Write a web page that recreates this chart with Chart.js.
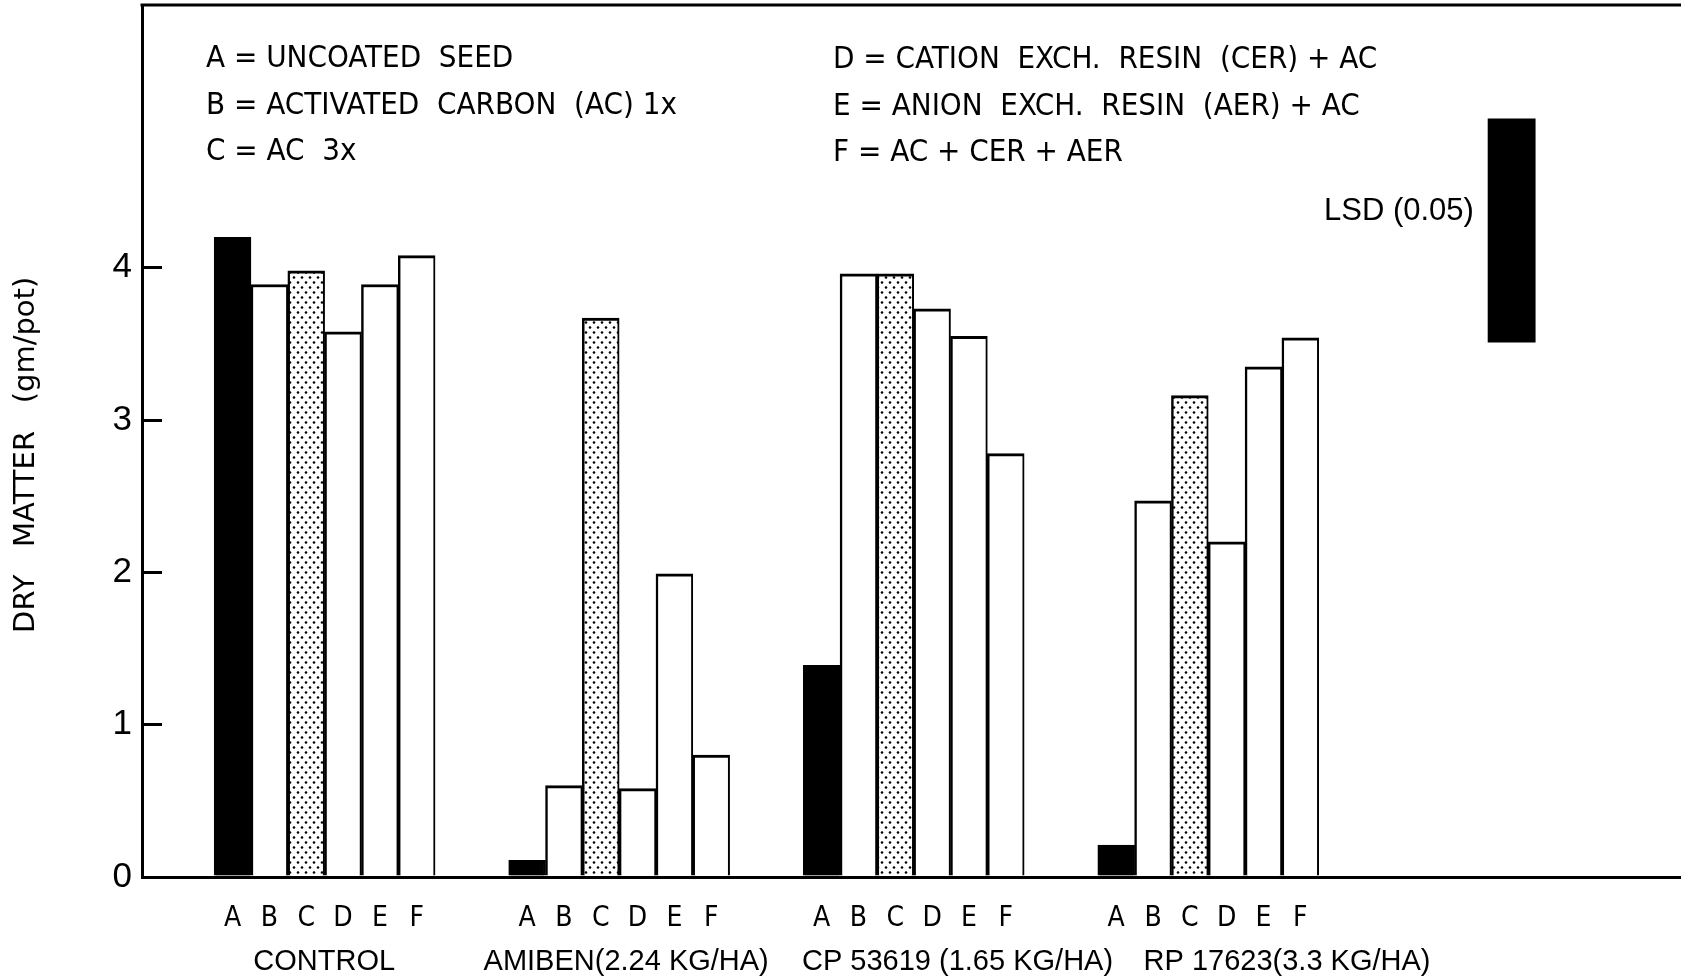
<!DOCTYPE html>
<html>
<head>
<meta charset="utf-8">
<title>Dry matter by seed coating</title>
<script src="https://cdn.jsdelivr.net/npm/chart.js@4.4.1/dist/chart.umd.min.js"></script>
<style>
  html, body { margin: 0; padding: 0; background: #fff; }
  #wrap { width: 1681px; height: 979px; position: relative; }
</style>
</head>
<body>
<div id="wrap"><canvas id="chart"></canvas></div>
<script>
// data (dry matter, gm/pot)
const treatments = ['A', 'B', 'C', 'D', 'E', 'F'];
const groups = ['CONTROL', 'AMIBEN(2.24 KG/HA)', 'CP 53619 (1.65 KG/HA)', 'RP 17623(3.3 KG/HA)'];
const control = [4.20, 3.89, 3.98, 3.58, 3.89, 4.08];
const amiben = [0.11, 0.60, 3.67, 0.58, 1.99, 0.80];
const cp53619 = [1.39, 3.96, 3.96, 3.73, 3.55, 2.78];
const rp17623 = [0.21, 2.47, 3.16, 2.20, 3.35, 3.54];
const lsd = [3.51, 4.98];
const yTicks = [0, 1, 2, 3, 4];
// where the group captions sit on the x axis (slot units)
const groupLabelAt = [4.95, 13.15, 22.15, 31.1];

const keyLeft = ['A = UNCOATED  SEED', 'B = ACTIVATED  CARBON  (AC) 1x', 'C = AC  3x'];
const keyRight = ['D = CATION  EXCH.  RESIN  (CER) + AC', 'E = ANION  EXCH.  RESIN  (AER) + AC', 'F = AC + CER + AER'];

// layout in slot units: one slot = one bar width
const firstSlot = 1.96;
const groupStride = 8;
const xMax = 41.8;
const lsdAt = 37.2;

const NARROW = '"Liberation Sans Narrow", "DejaVu Sans Condensed", "Liberation Sans", sans-serif';
const SANS = '"Liberation Sans", Arial, sans-serif';

// dotted fill for treatment C
function dotPattern() {
  const c = document.createElement('canvas');
  c.width = 8; c.height = 10;
  const g = c.getContext('2d');
  g.fillStyle = '#fff';
  g.fillRect(0, 0, 8, 10);
  g.fillStyle = '#000';
  [[2, 2.5], [6, 7.5]].forEach(([x, y]) => {
    g.beginPath();
    g.arc(x, y, 1.3, 0, Math.PI * 2);
    g.fill();
  });
  return g.createPattern(c, 'repeat');
}

const chartEl = document.getElementById('chart');
const fills = ['#000', '#fff', dotPattern(), '#fff', '#fff', '#fff'];
const groupData = [control, amiben, cp53619, rp17623];

const datasets = treatments.map((t, i) => ({
  label: t,
  data: groupData.map((vals, g) => ({ x: firstSlot + g * groupStride + i + 0.5, y: vals[i] })),
  backgroundColor: fills[i],
  borderColor: '#000',
  borderWidth: { top: 3, left: 2.5, right: 2, bottom: 0 },
  borderSkipped: 'bottom',
}));

datasets.push({
  label: 'LSD (0.05)',
  data: [{ x: lsdAt, y: lsd }],
  backgroundColor: '#000',
  borderWidth: 0,
  barPercentage: 1.3,
});

const barCenters = [];
groups.forEach((g, gi) => treatments.forEach((t, i) => barCenters.push(firstSlot + gi * groupStride + i + 0.5)));

// key text and the top frame line
const keyText = {
  id: 'keyText',
  afterDraw(chart) {
    const ctx = chart.ctx;
    const area = chart.chartArea;
    ctx.save();
    ctx.strokeStyle = '#000';
    ctx.lineWidth = 3;
    ctx.beginPath();
    ctx.moveTo(area.left - 1.5, area.top);
    ctx.lineTo(area.right, area.top);
    ctx.stroke();

    ctx.fillStyle = '#000';
    ctx.textBaseline = 'middle';
    ctx.textAlign = 'left';
    ctx.font = '31px ' + NARROW;
    const rows = [59, 106, 152];
    keyLeft.forEach((s, i) => ctx.fillText(s, 206, rows[i]));
    keyRight.forEach((s, i) => ctx.fillText(s, 833, rows[i] + 1));
    ctx.font = '31px ' + SANS;
    ctx.fillText('LSD (0.05)', 1324, 211);
    ctx.restore();
  }
};

new Chart(chartEl, {
  type: 'bar',
  data: { datasets },
  options: {
    responsive: true,
    maintainAspectRatio: false,
    devicePixelRatio: 1,
    animation: false,
    layout: { padding: { top: 5, right: 0, left: 0, bottom: 0 } },
    plugins: { legend: { display: false }, tooltip: { enabled: false } },
    datasets: { bar: { grouped: false, categoryPercentage: 1, barPercentage: 1 } },
    scales: {
      x: {
        type: 'linear',
        position: 'bottom',
        min: 0,
        max: xMax,
        offset: false,
        afterBuildTicks: s => { s.ticks = barCenters.map(v => ({ value: v })); },
        afterFit: s => { s.height = 60; s.paddingLeft = 0; s.paddingRight = 0; },
        ticks: {
          autoSkip: false,
          maxRotation: 0,
          padding: 17,
          color: '#000',
          font: { family: NARROW, size: 28 },
          callback: (v, i) => treatments[i % treatments.length],
        },
        grid: { display: false },
        border: { display: true, color: '#000', width: 3 },
      },
      x2: {
        type: 'linear',
        position: 'bottom',
        min: 0,
        max: xMax,
        offset: false,
        afterBuildTicks: s => { s.ticks = groupLabelAt.map(v => ({ value: v })); },
        afterFit: s => { s.height = 42; s.paddingLeft = 0; s.paddingRight = 0; },
        ticks: {
          autoSkip: false,
          maxRotation: 0,
          padding: 0,
          color: '#000',
          font: { family: SANS, size: 29 },
          callback: (v, i) => groups[i],
        },
        grid: { display: false },
        border: { display: false },
      },
      y: {
        type: 'linear',
        min: 0,
        max: 5.725,
        afterBuildTicks: s => { s.ticks = yTicks.map(v => ({ value: v })); },
        afterFit: s => { s.width = 142; s.paddingTop = 0; s.paddingBottom = 0; },
        ticks: {
          padding: 30,
          color: '#000',
          font: { family: SANS, size: 35 },
        },
        grid: { display: true, drawOnChartArea: false, tickLength: -20, color: '#000', lineWidth: 3 },
        border: { display: true, color: '#000', width: 3 },
        title: {
          display: true,
          text: 'DRY   MATTER   (gm/pot)   ',
          color: '#000',
          font: { family: '"DejaVu Sans", sans-serif', size: 29 },
          padding: { top: 9, bottom: 0 },
        },
      },
    },
  },
  plugins: [keyText],
});
</script>
</body>
</html>
